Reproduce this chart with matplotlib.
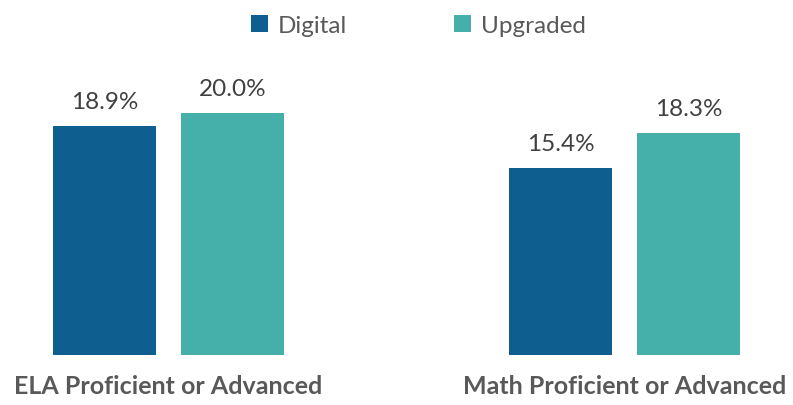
import matplotlib.pyplot as plt
import numpy as np

plt.rcParams['font.family'] = ['Lato', 'DejaVu Sans']

categories = ['ELA Proficient or Advanced', 'Math Proficient or Advanced']
series = ['Digital', 'Upgraded']
digital = [18.9, 15.4]
upgraded = [20.0, 18.3]
colors = ['#0E5E8F', '#45B0A9']

fig = plt.figure(figsize=(7.93, 4.06), dpi=100)
ax = fig.add_axes([0, 50 / 406, 1, 356 / 406])

x = np.arange(len(categories))
w = 0.226
off = 0.140
ax.bar(x - off, digital, w, color=colors[0], label=series[0])
ax.bar(x + off, upgraded, w, color=colors[1], label=series[1])

for xs, vals in [(x - off, digital), (x + off, upgraded)]:
    for xi, v in zip(xs, vals):
        ax.annotate(f'{v:.1f}%', (xi, v), xytext=(0, 10), textcoords='offset points',
                    ha='center', va='bottom', fontsize=17.5, color='#404040')

ax.set_xlim(-0.3695, 1.3695)
ax.set_ylim(0, 356 / 12.12)
ax.set_xticks(x)
ax.set_xticklabels(categories, fontsize=18, fontweight='bold', color='#595959')
ax.tick_params(axis='x', length=0, pad=14)
ax.set_yticks([])
for s in ax.spines.values():
    s.set_visible(False)

fig.legend(loc='upper center', bbox_to_anchor=(0.528, 1.0), ncol=2, frameon=False,
           fontsize=17.5, labelcolor='#595959', handlelength=0.7, handleheight=0.7,
           handletextpad=0.4, columnspacing=4.4, borderaxespad=0.25)

fig.savefig('out.png', dpi=100)
